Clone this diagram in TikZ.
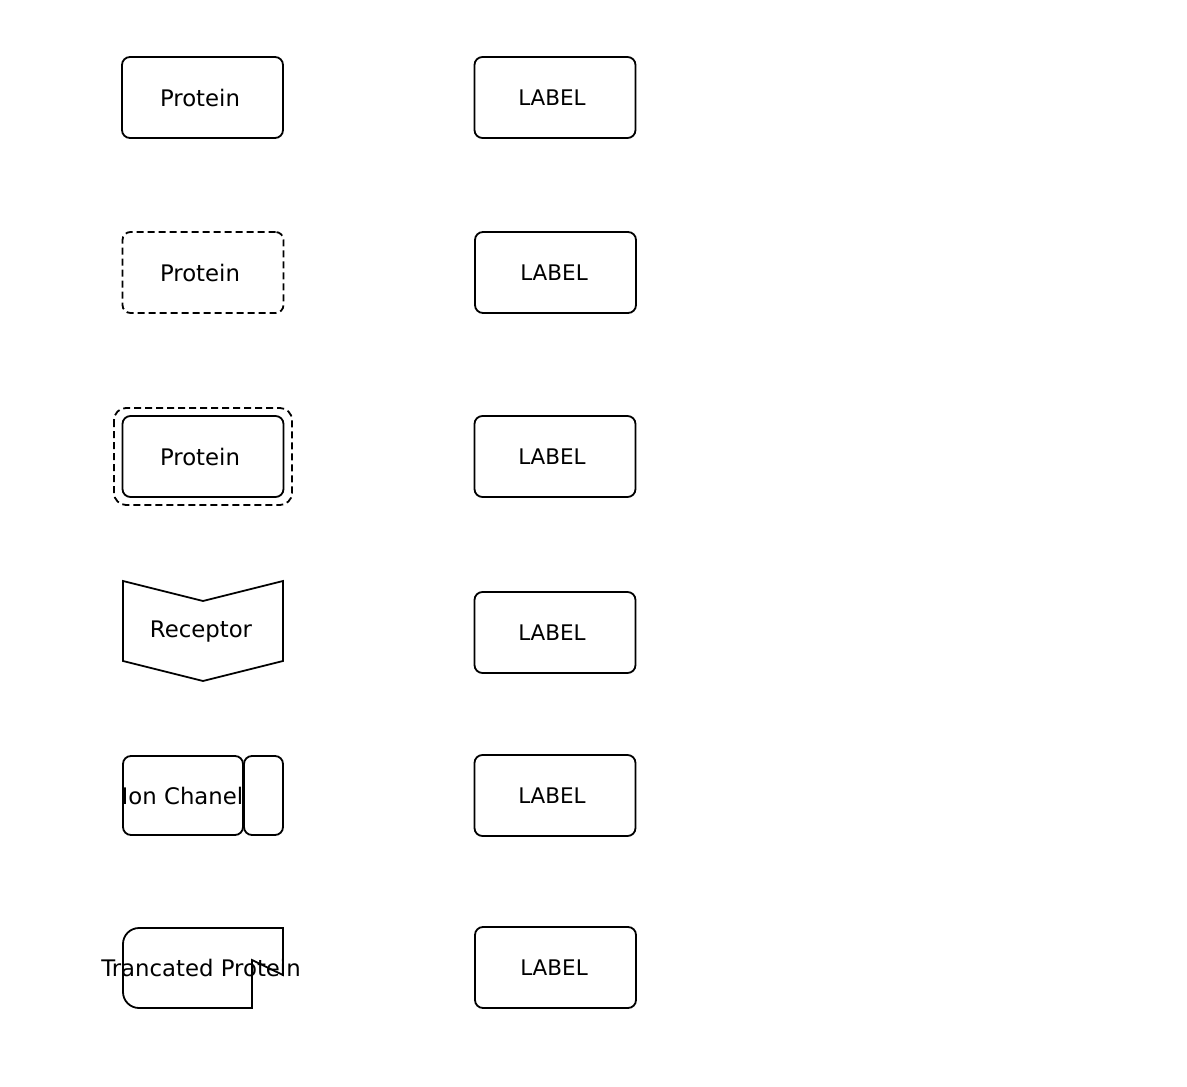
\documentclass[tikz,border=0pt]{standalone}
\usepackage{fontspec}
\setmainfont{DejaVu Sans}
\begin{document}
\begin{tikzpicture}[x=1pt,y=-1pt,
  line width=1.8pt,
  txt/.style={font=\fontsize{22.8}{26}\selectfont, inner sep=0pt},
  lbltxt/.style={font=\fontsize{21.5}{24}\selectfont, inner sep=0pt},
  pbox/.style={draw, rounded corners=8pt, minimum width=161pt, minimum height=81pt, inner sep=0pt},
  dashbox/.style={pbox, dash pattern=on 7pt off 4pt},
  outerdash/.style={draw, rounded corners=12pt, dash pattern=on 7pt off 4pt}
]
\useasboundingbox (0,0) rectangle (1187,1087);
% left column
\node[pbox] (p1) at (202.5,97.5) {};
\node[txt] (p1t) at ([xshift=-2.5pt]p1.center) {Protein};
\node[dashbox] (p2) at (203,272.5) {};
\node[txt] (p2t) at ([xshift=-3pt]p2.center) {Protein};
\node[pbox] (p3) at (203,456.5) {};
\node[txt] (p3t) at ([xshift=-3pt]p3.center) {Protein};
\draw[outerdash] (114,408) rectangle (292,505);
% receptor
\draw (123,581) -- (203,601) -- (283,581) -- (283,661) -- (203,681) -- (123,661) -- cycle;
\node[txt] (rec) at (201,631.5) {Receptor};
% ion channel
\draw[rounded corners=8pt] (123,756) rectangle (243,835);
\draw[rounded corners=8pt] (244,756) rectangle (283,835);
\node[txt] (ion) at (182.5,795.5) {Ion Chanel};
% truncated protein
\draw (283,928) -- (283,975) -- (252,960) -- (252,1008)
  [rounded corners=16pt] -- (123,1008) -- (123,928) [sharp corners] -- cycle;
\node[txt] (tr) at (201,967.5) {Trancated Protein};
% right column
\node[pbox] (l1) at (555,97.5) {};
\node[lbltxt] (l1t) at ([xshift=-3pt]l1.center) {LABEL};
\node[pbox] (l2) at (555.5,272.5) {};
\node[lbltxt] (l2t) at ([xshift=-1.5pt]l2.center) {LABEL};
\node[pbox] (l3) at (555,456.5) {};
\node[lbltxt] (l3t) at ([xshift=-3pt]l3.center) {LABEL};
\node[pbox] (l4) at (555,632.5) {};
\node[lbltxt] (l4t) at ([xshift=-3pt]l4.center) {LABEL};
\node[pbox] (l5) at (555,795.5) {};
\node[lbltxt] (l5t) at ([xshift=-3pt]l5.center) {LABEL};
\node[pbox] (l6) at (555.5,967.5) {};
\node[lbltxt] (l6t) at ([xshift=-1.5pt]l6.center) {LABEL};
\end{tikzpicture}
\end{document}
